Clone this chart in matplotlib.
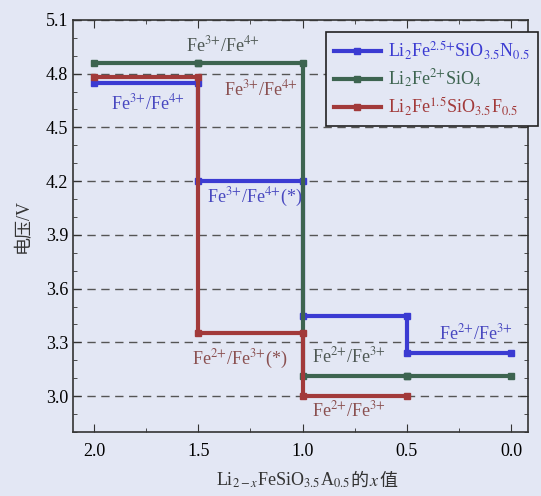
import matplotlib.pyplot as plt
from matplotlib.ticker import MultipleLocator

plt.rcParams['font.family'] = ['Liberation Serif', 'Noto Sans CJK SC']
plt.rcParams['mathtext.fontset'] = 'stix'

# x positions of plateau boundaries and plateau voltages
x_n = [2.0, 1.5, 1.0, 0.5, 0.0]
v_n = [4.75, 4.20, 3.45, 3.24]
x_s = [2.0, 1.5, 1.0, 0.5, 0.0]
v_s = [4.86, 4.86, 3.11, 3.11]
x_f = [2.0, 1.5, 1.0, 0.5]
v_f = [4.78, 3.35, 3.00]

labels = [r'Li$_2$Fe$^{2.5{+}}$SiO$_{3.5}$N$_{0.5}$',
          r'Li$_2$Fe$^{2{+}}$SiO$_4$',
          r'Li$_2$Fe$^{1.5}$SiO$_{3.5}$F$_{0.5}$']
colors = ['#3b3bd2', '#3d6450', '#a23a3a']

bg = '#e3e7f4'


def steps(xs, vs):
    px, py = [], []
    for i, v in enumerate(vs):
        px += [xs[i], xs[i + 1]]
        py += [v, v]
    return px, py


fig = plt.figure(figsize=(5.41, 4.96), dpi=100, facecolor=bg)
ax = fig.add_axes([0.135, 0.129, 0.841, 0.831], facecolor=bg)

for (xs, vs), lab, c in zip([(x_n, v_n), (x_s, v_s), (x_f, v_f)], labels, colors):
    px, py = steps(xs, vs)
    ax.plot(px, py, color=c, lw=3, marker='s', ms=5, label=lab)

ax.set_xlim(2.1, -0.08)
ax.set_ylim(2.8, 5.1)
ax.xaxis.set_major_locator(MultipleLocator(0.5))
ax.xaxis.set_minor_locator(MultipleLocator(0.25))
ax.yaxis.set_minor_locator(MultipleLocator(0.1))
ax.set_yticks([3.0, 3.3, 3.6, 3.9, 4.2, 4.5, 4.8, 5.1])
ax.tick_params(which='both', direction='in', top=True, right=True, labelsize=13, color='#333333')
ax.tick_params(which='major', length=6)
ax.tick_params(which='minor', length=3)
ax.tick_params(axis='x', pad=8)
ax.yaxis.grid(True, ls=(0, (6, 4)), color='#555555', lw=1)
ax.set_axisbelow(True)
for s in ax.spines.values():
    s.set_color('#333333')
    s.set_linewidth(1.2)

ax.set_ylabel('电压/V', fontsize=13, labelpad=10, color='#333333')

# x label in pieces so the CJK glyphs are not sent through mathtext
y0 = 0.02
prev = fig.text(0.40, y0, r'Li$_{2-x}$FeSiO$_{3.5}$A$_{0.5}$', fontsize=13, color='#333333', va='baseline')
for s in ['的', r'$x$', '值']:
    prev = ax.annotate(s, xy=(1, y0), xycoords=(prev, 'figure fraction'),
                       fontsize=13, color='#333333', va='baseline', ha='left',
                       annotation_clip=False)

txt = dict(fontsize=13, ha='center', va='center')
ax.text(1.38, 4.96, r'Fe$^{3{+}}$/Fe$^{4{+}}$', color='#4e5854', **txt)
ax.text(1.74, 4.635, r'Fe$^{3{+}}$/Fe$^{4{+}}$', color='#4848c0', **txt)
ax.text(1.2, 4.71, r'Fe$^{3{+}}$/Fe$^{4{+}}$', color='#8a5050', **txt)
ax.text(1.23, 4.11, r'Fe$^{3{+}}$/Fe$^{4{+}}$(*)', color='#4848c0', **txt)
ax.text(1.30, 3.205, r'Fe$^{2{+}}$/Fe$^{3{+}}$(*)', color='#8a5050', **txt)
ax.text(0.78, 3.22, r'Fe$^{2{+}}$/Fe$^{3{+}}$', color='#4e5854', **txt)
ax.text(0.17, 3.35, r'Fe$^{2{+}}$/Fe$^{3{+}}$', color='#4848c0', **txt)
ax.text(0.78, 2.92, r'Fe$^{2{+}}$/Fe$^{3{+}}$', color='#8a5050', **txt)

leg = ax.legend(loc='upper right', fontsize=13, frameon=True, fancybox=False,
                edgecolor='#222222', facecolor=bg, framealpha=1,
                handlelength=2.6, handletextpad=0.4, borderpad=0.45,
                labelspacing=0.3, borderaxespad=0,
                bbox_to_anchor=(1.022, 0.971))
leg.get_frame().set_linewidth(1.2)
for t, c in zip(leg.get_texts(), colors):
    t.set_color(c)

fig.savefig('out.png', dpi=100, facecolor=bg)
